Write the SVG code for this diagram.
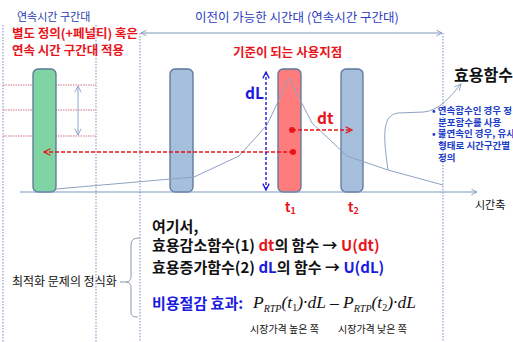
<svg xmlns="http://www.w3.org/2000/svg" width="513" height="342" viewBox="0 0 513 342">
<defs>
<style>
.kr{font-family:"Noto Sans CJK KR","Noto Sans",sans-serif}
.b{font-weight:bold}
.red{fill:#e8141c}
.blue{fill:#1a1ae0}
.vguide{stroke:#7f86c8;stroke-width:1;stroke-dasharray:1.5 1.5;fill:none}
.hguide{stroke:#d07080;stroke-width:1;stroke-dasharray:1.5 1;fill:none}
.bar{stroke:#5a7699;stroke-width:1.3}
.math{font-family:"Liberation Serif","Times New Roman",serif;font-style:italic;fill:#111}
</style>
<marker id="open" viewBox="0 0 10 10" refX="9" refY="5" markerWidth="7" markerHeight="7" orient="auto-start-reverse" markerUnits="userSpaceOnUse">
<path d="M1,1 L9,5 L1,9" fill="none" stroke="#7f98c0" stroke-width="1.3"/>
</marker>
<marker id="openG" viewBox="0 0 10 10" refX="9" refY="5" markerWidth="8" markerHeight="8" orient="auto-start-reverse" markerUnits="userSpaceOnUse">
<path d="M1,1 L9,5 L1,9" fill="none" stroke="#8aa6c4" stroke-width="1.2"/>
</marker>
<marker id="redA" viewBox="0 0 10 10" refX="9" refY="5" markerWidth="8" markerHeight="8" orient="auto-start-reverse" markerUnits="userSpaceOnUse">
<path d="M1,1 L9,5 L1,9" fill="none" stroke="#e8141c" stroke-width="1.6"/>
</marker>
<marker id="blueA" viewBox="0 0 10 10" refX="9" refY="5" markerWidth="8" markerHeight="8" orient="auto-start-reverse" markerUnits="userSpaceOnUse">
<path d="M1,1 L9,5 L1,9" fill="none" stroke="#1a1ae0" stroke-width="1.6"/>
</marker>
<marker id="dot" viewBox="0 0 10 10" refX="5" refY="5" markerWidth="6" markerHeight="6" markerUnits="userSpaceOnUse">
<circle cx="5" cy="5" r="5" fill="#e8141c"/>
</marker>
</defs>
<rect width="513" height="342" fill="#ffffff"/>

<g id="guides">
<line class="vguide" x1="3" y1="25" x2="3" y2="342"/>
<line class="vguide" x1="96" y1="25" x2="96" y2="342"/>
<line class="vguide" x1="140" y1="33" x2="140" y2="342"/>
<line class="vguide" x1="443" y1="33" x2="443" y2="342"/>
<line class="hguide" x1="3" y1="85" x2="96" y2="85"/>
<line class="hguide" x1="3" y1="110" x2="96" y2="110"/>
<line class="hguide" x1="3" y1="136" x2="96" y2="136"/>
</g>

<g id="header-texts">
<text class="kr" x="17" y="21" font-size="11" fill="#2840b0">연속시간 구간대</text>
<text class="kr" x="195" y="22" font-size="12.5" fill="#2a3cc0">이전이 가능한 시간대 (연속시간 구간대)</text>
<text class="kr b red" x="12" y="38" font-size="12.5">별도 정의(+페널티) 혹은</text>
<text class="kr b red" x="12" y="55" font-size="12.5">연속 시간 구간대 적용</text>
<text class="kr b red" x="233" y="57" font-size="12.5">기준이 되는 사용지점</text>
<text class="kr b" x="454" y="81" font-size="16" fill="#111">효용함수</text>
</g>

<g id="bars">
<g id="green-bar"><rect class="bar" x="33" y="69" width="23" height="123" rx="5" fill="#80d3a2"/></g>
<g id="blue-bar-1"><rect class="bar" x="170" y="69" width="23" height="123" rx="5" fill="#a6bfdc"/></g>
<g id="red-bar"><rect class="bar" x="278" y="69" width="23" height="123" rx="5" fill="#ff7c7c"/></g>
<g id="blue-bar-2"><rect class="bar" x="341" y="69" width="22" height="123" rx="5" fill="#a6bfdc"/></g>
</g>

<g id="connectors">
<line x1="141" y1="33" x2="442" y2="33" stroke="#7f98c0" stroke-width="1" marker-start="url(#open)" marker-end="url(#open)"/>
<line x1="20" y1="192" x2="477" y2="192" stroke="#7f98c0" stroke-width="1.2" marker-end="url(#open)"/>
<line x1="78" y1="86" x2="78" y2="135" stroke="#8aa6c4" stroke-width="1" marker-start="url(#openG)" marker-end="url(#openG)"/>
<polyline points="56,189 194,177 239,156 267,125 289,78 312,123 347,156 388,170 443,185" fill="none" stroke="#8ea2c0" stroke-width="1"/>
<path d="M388,170 C383,135 382,115 398,113 L424,112 C440,110 450,97 461,84" fill="none" stroke="#8ea2c0" stroke-width="1" marker-end="url(#openG)"/>
<line x1="293" y1="152" x2="44" y2="152" stroke="#e8141c" stroke-width="1.5" stroke-dasharray="4 2" marker-start="url(#dot)" marker-end="url(#redA)"/>
<line x1="292" y1="130" x2="352" y2="130" stroke="#e8141c" stroke-width="1.5" stroke-dasharray="4 2" marker-start="url(#dot)" marker-end="url(#redA)"/>
<line x1="266" y1="72" x2="266" y2="190" stroke="#1a1ae0" stroke-width="1.4" stroke-dasharray="3 2" marker-start="url(#blueA)" marker-end="url(#blueA)"/>
<path d="M140,238 C133,238 131,240 131,246 L131,276 C131,280 129,282 126,282 C129,282 131,284 131,288 L131,312 C131,316 133,317 138,317" fill="none" stroke="#8a96a8" stroke-width="1"/>
<line x1="120" y1="282" x2="126" y2="282" stroke="#8a96a8" stroke-width="1"/>
</g>

<g id="labels">
<text class="kr b blue" x="245" y="99" font-size="15.5">dL</text>
<text class="kr b red" x="317" y="124" font-size="15.5">dt</text>
<text class="kr b red" x="285" y="212" font-size="13">t<tspan font-size="9" dy="2">1</tspan></text>
<text class="kr b red" x="348" y="212" font-size="13">t<tspan font-size="9" dy="2">2</tspan></text>
<text class="kr" x="475" y="209" font-size="11" fill="#111">시간축</text>
<g class="kr b" font-size="9.5" fill="#1a3cc8">
<text x="432" y="114">• 연속함수인 경우 정</text>
<text x="438" y="126">분포함수를 사용</text>
<text x="432" y="137">• 불연속인 경우, 유사</text>
<text x="438" y="149">형태로 시간구간별</text>
<text x="438" y="161">정의</text>
</g>
</g>

<g id="formulation">
<text class="kr" x="12" y="286" font-size="12" fill="#111">최적화 문제의 정식화</text>
<text class="kr b" x="152" y="232" font-size="15" fill="#111">여기서,</text>
<text class="kr b" x="152" y="251" font-size="15" fill="#111">효용감소함수(1) <tspan class="red">dt</tspan>의 함수 → <tspan class="red">U(dt)</tspan></text>
<text class="kr b" x="152" y="273" font-size="15" fill="#111">효용증가함수(2) <tspan class="blue">dL</tspan>의 함수 → <tspan class="blue">U(dL)</tspan></text>
<text class="kr b blue" x="152" y="309" font-size="15">비용절감 효과:</text>
<text class="math" x="253" y="308" font-size="17.5">P<tspan font-size="10" dy="4">RTP</tspan><tspan dy="-4">(t</tspan><tspan font-size="10" font-style="normal" dy="3">1</tspan><tspan dy="-3">)·dL – P</tspan><tspan font-size="10" dy="4">RTP</tspan><tspan dy="-4">(t</tspan><tspan font-size="10" font-style="normal" dy="3">2</tspan><tspan dy="-3">)·dL</tspan></text>
<text class="kr" x="250" y="333" font-size="10" fill="#111">시장가격 높은 쪽</text>
<text class="kr" x="338" y="333" font-size="10" fill="#111">시장가격 낮은 쪽</text>
</g>
</svg>
